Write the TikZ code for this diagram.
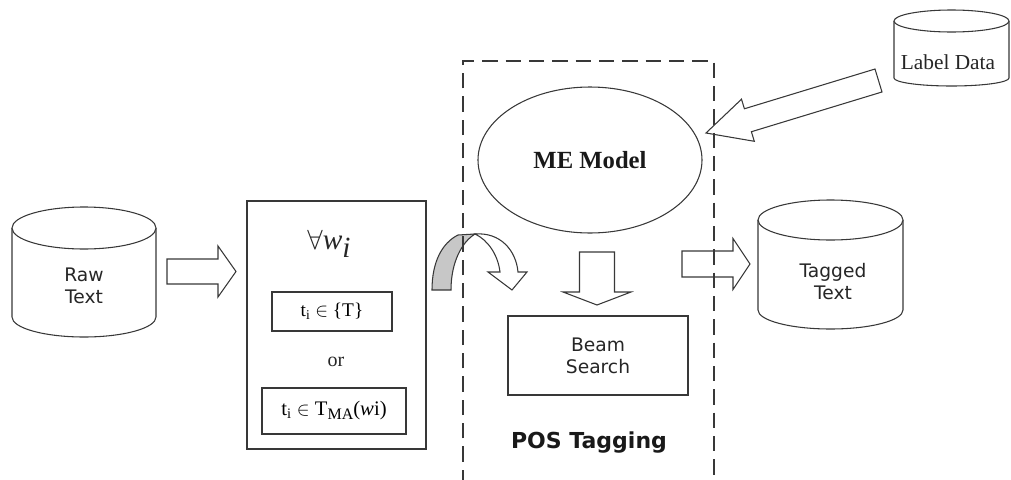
\documentclass[tikz,border=0pt]{standalone}
\usepackage{fontspec}
\setmainfont{Liberation Serif}
\newfontfamily\uisans{DejaVu Sans}
\usetikzlibrary{shapes.geometric,calc}

% database drum: cx, y of top cap centre, y of bottom cap centre, rx, ry top, ry bottom
\newcommand\dbdrum[6]{%
  \pgfmathsetmacro\dl{#1-#4}\pgfmathsetmacro\dr{#1+#4}%
  \pgfmathsetmacro\kx{0.5523*#4}\pgfmathsetmacro\ky{0.5523*#6}%
  \pgfmathsetmacro\yb{#3+#6}%
  \pgfmathsetmacro\rxp{#4*0.75}\pgfmathsetmacro\ryp{#5*0.75}%
  \draw[outl,fill=white] (\dl,#2) -- (\dl,#3) .. controls (\dl,#3+\ky) and (#1-\kx,\yb) .. (#1,\yb)
     .. controls (#1+\kx,\yb) and (\dr,#3+\ky) .. (\dr,#3) -- (\dr,#2);
  \draw[outl,fill=white] (#1,#2) ellipse [x radius=\rxp pt, y radius=\ryp pt];
}

% hollow block arrow: name, tail, tip, shaft half width, head half width, head length
\newcommand\blockarrow[6]{%
  \pgfmathsetmacro\sw{#4*0.75}\pgfmathsetmacro\hw{#5*0.75}\pgfmathsetmacro\hl{#6*0.75}%
  \coordinate (#1-hb) at ($(#3)!\hl pt!(#2)$);
  \draw[outl] ($(#2)!\sw pt!90:(#3)$) -- ($(#1-hb)!\sw pt!-90:(#2)$)
     -- ($(#1-hb)!\hw pt!-90:(#2)$) -- (#3) -- ($(#1-hb)!\hw pt!90:(#2)$)
     -- ($(#1-hb)!\sw pt!90:(#2)$) -- ($(#2)!\sw pt!-90:(#3)$) -- cycle;
}

\begin{document}
\begin{tikzpicture}[x=0.75pt,y=-0.75pt,
  outl/.style={draw=black!78,line width=0.8pt},
  boxnode/.style={outl,inner sep=0pt},
  sanslbl/.style={font=\uisans\fontsize{14}{16.5}\selectfont,align=center,text=black!85},
  serlbl/.style={text=black!85,inner sep=0pt}]
\useasboundingbox (0,0) rectangle (1011,479);

% data stores
\dbdrum{84}{228}{317}{72}{21}{20}
\node[sanslbl] (raw) at (84,286) {Raw\\Text};
\dbdrum{830.5}{220}{310}{72.5}{20}{19}
\node[sanslbl] (tagged) at (833,282) {Tagged\\Text};
\dbdrum{951.5}{21}{78}{57.5}{11}{8}
\node[serlbl,font=\fontsize{16}{19}\selectfont] (label) at (948,62) {Label Data};

% candidate tag sets
\node[boxnode,minimum width={179*0.75pt},minimum height={248*0.75pt}] (cand) at (336.5,325) {};
\node[serlbl,font=\fontsize{22}{26}\selectfont] (forall) at (329,244) {$\forall$\textit{w}\raisebox{-6pt}{\textit{i}}};
\node[boxnode,minimum width={120*0.75pt},minimum height={39*0.75pt},
      font=\fontsize{14.5}{18}\selectfont] (tset) at (332,311.5) {t\textsubscript{i} $\in$ \{T\}};
\node[serlbl,font=\fontsize{15}{18}\selectfont] (or) at (336,362) {or};
\node[boxnode,minimum width={144*0.75pt},minimum height={46*0.75pt},
      font=\fontsize{15.5}{18}\selectfont] (tma) at (334,411) {t\textsubscript{i} $\in$ T\raisebox{-3pt}{\fontsize{12}{14}\selectfont MA}(\textit{w}i)};

% tagger
\node[ellipse,outl,minimum width={224*0.75pt},minimum height={146*0.75pt},inner sep=0pt,
      font=\bfseries\fontsize{18.5}{22}\selectfont,text=black!90] (me) at (590,160) {ME Model};
\node[boxnode,minimum width={180*0.75pt},minimum height={79*0.75pt},sanslbl] (beam) at (598,355.5) {Beam\\Search};
\node[font=\uisans\bfseries\fontsize{16.5}{20}\selectfont,text=black!90] (pos) at (589,443) {POS Tagging};

% block arrows
\coordinate (a1s) at (167,271.5); \coordinate (a1e) at (236,271.5);
\blockarrow{a1}{a1s}{a1e}{12.5}{25.5}{18}
\coordinate (a2s) at (682,264); \coordinate (a2e) at (750,264);
\blockarrow{a2}{a2s}{a2e}{13}{25.5}{17}
\coordinate (a3s) at (597,252); \coordinate (a3e) at (597,305);
\blockarrow{a3}{a3s}{a3e}{17.5}{34}{13}
\coordinate (a4s) at (878.5,80.5); \coordinate (a4e) at (706,133);
\blockarrow{a4}{a4s}{a4e}{12}{22}{43.8}

% curved hand-over arrow
\draw[outl,fill=black!22] (432,290) .. controls (432,262) and (442,243) .. (458,235) -- (475,234)
   .. controls (462,242) and (451,262) .. (451,290) -- cycle;
\draw[outl,fill=white] (475,234) .. controls (500,232) and (516,250) .. (518,272) -- (527,272)
   -- (512,290) -- (488,272) -- (500,272) .. controls (498,255) and (488,240) .. (475,234) -- cycle;

% tagging frame
\draw[draw=black!78,line width=0.8pt,dash pattern=on 11.5pt off 6pt] (463,485) -- (463,61) -- (714,61) -- (714,485);
\end{tikzpicture}
\end{document}
